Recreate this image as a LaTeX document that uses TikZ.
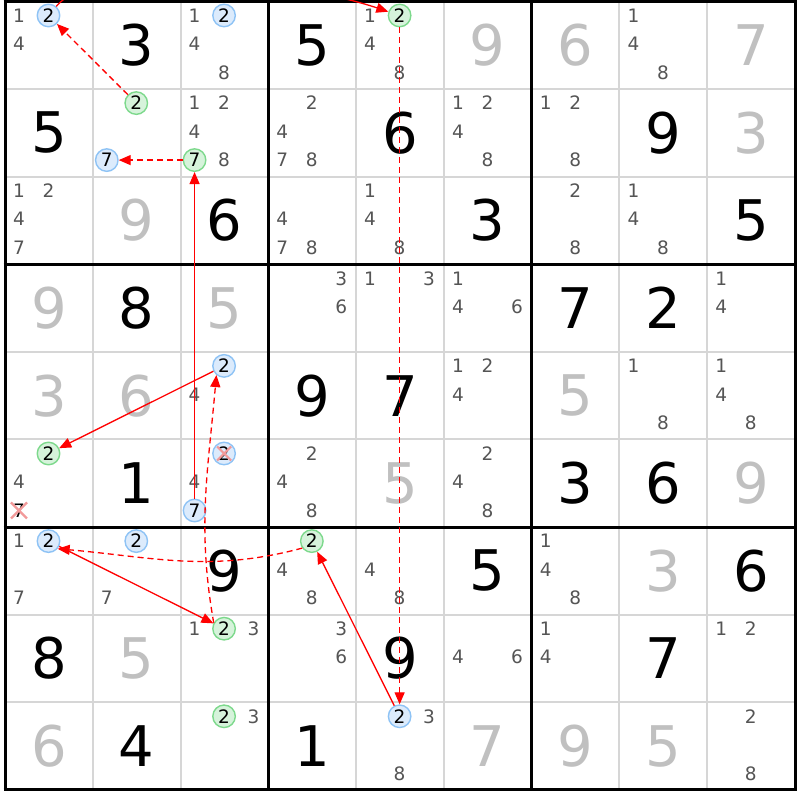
\documentclass[tikz,border=0pt]{standalone}
\usepackage{fontspec}
\setmainfont{DejaVu Sans}
\usetikzlibrary{arrows.meta}
\definecolor{candgray}{HTML}{555555}
\definecolor{givgray}{HTML}{C0C0C0}
\definecolor{thinline}{HTML}{D6D6D6}
\definecolor{bluefill}{HTML}{DCEBFC}
\definecolor{bluedraw}{HTML}{8EC3F5}
\definecolor{greenfill}{HTML}{D6F3DB}
\definecolor{greendraw}{HTML}{7DD98C}
\definecolor{crossred}{HTML}{F29A9A}
\definecolor{chainred}{HTML}{FF0000}
\def\csx{87.78}\def\csy{87.6}\def\gx{5}\def\gtop{798.5}
\newcommand\cpos[3]{%
  \pgfmathsetmacro\cx{\gx+\csx*#2+14+29.5*mod(#3-1,3)}%
  \pgfmathsetmacro\cy{\gtop-\csy*#1-14-28.5*floor((#3-1)/3)}}
\newcommand\cnd[3]{\cpos{#1}{#2}{#3}\node[candtxt] (n#1#2#3) at (\cx,\cy) {#3};}
\newcommand\cands[3]{\foreach \dd in {#3}{\cnd{#1}{#2}{\dd}}}
\newcommand\hl[5]{\cpos{#3}{#4}{#5}\node[#1] (#2) at (\cx,\cy) {#5};}
\newcommand\bigdig[4]{%
  \pgfmathsetmacro\cx{\gx+\csx*(#2+0.5)}%
  \pgfmathsetmacro\cy{\gtop-\csy*(#1+0.5)}%
  \node[#4] (g#1#2) at (\cx,\cy) {#3};}
\newcommand\xmark[4]{\cpos{#1}{#2}{#3}%
  \draw[crossx] (\cx-#4,\cy-#4) -- (\cx+#4,\cy+#4) (\cx-#4,\cy+#4) -- (\cx+#4,\cy-#4);}
\tikzset{
  candtxt/.style={inner sep=0pt, text=candgray, font=\fontsize{18.5}{18.5}\selectfont},
  bluec/.style={circle, draw=bluedraw, fill=bluefill, line width=1.4pt, minimum size=22.5pt, inner sep=0pt, text=black, font=\fontsize{18.5}{18.5}\selectfont},
  greenc/.style={bluec, draw=greendraw, fill=greenfill},
  bk/.style={inner sep=0pt, text=black, font=\fontsize{56}{56}\selectfont},
  gr/.style={bk, text=givgray},
  crossx/.style={draw=crossred, line width=2.2pt},
  strong/.style={draw=chainred, line width=1.3pt, -{Triangle[length=12pt,width=10pt]}},
  weak/.style={strong, dash pattern=on 6pt off 4pt},
  thin grid/.style={draw=thinline, line width=2pt},
  thick grid/.style={draw=black, line width=3pt},
}
\begin{document}
\begin{tikzpicture}[x=1pt,y=1pt]
\useasboundingbox (0,0) rectangle (800,800);
\fill[white] (0,0) rectangle (800,800);
\clip (0,0) rectangle (800,800);
% grid
\foreach \i in {1,2,4,5,7,8}{
  \draw[thin grid] ({\gx+\csx*\i},\gtop) -- ({\gx+\csx*\i},{\gtop-9*\csy});
  \draw[thin grid] (\gx,{\gtop-\csy*\i}) -- ({\gx+9*\csx},{\gtop-\csy*\i});
}
\foreach \i in {0,3,6,9}{
  \draw[thick grid] ({\gx+\csx*\i},{\gtop+1.5}) -- ({\gx+\csx*\i},{\gtop-9*\csy-1.5});
  \draw[thick grid] ({\gx-1.5},{\gtop-\csy*\i}) -- ({\gx+9*\csx+1.5},{\gtop-\csy*\i});
}
% row 0
\cands{0}{0}{1,4}\hl{bluec}{b00}{0}{0}{2}
\bigdig{0}{1}{3}{bk}
\cands{0}{2}{1,4,8}\hl{bluec}{b02}{0}{2}{2}
\bigdig{0}{3}{5}{bk}
\cands{0}{4}{1,4,8}\hl{greenc}{g04}{0}{4}{2}
\bigdig{0}{5}{9}{gr}
\bigdig{0}{6}{6}{gr}
\cands{0}{7}{1,4,8}
\bigdig{0}{8}{7}{gr}
% row 1
\bigdig{1}{0}{5}{bk}
\hl{greenc}{g11}{1}{1}{2}\hl{bluec}{b11}{1}{1}{7}
\cands{1}{2}{1,2,4,8}\hl{greenc}{g12}{1}{2}{7}
\cands{1}{3}{2,4,7,8}
\bigdig{1}{4}{6}{bk}
\cands{1}{5}{1,2,4,8}
\cands{1}{6}{1,2,8}
\bigdig{1}{7}{9}{bk}
\bigdig{1}{8}{3}{gr}
% row 2
\cands{2}{0}{1,2,4,7}
\bigdig{2}{1}{9}{gr}
\bigdig{2}{2}{6}{bk}
\cands{2}{3}{4,7,8}
\cands{2}{4}{1,4,8}
\bigdig{2}{5}{3}{bk}
\cands{2}{6}{2,8}
\cands{2}{7}{1,4,8}
\bigdig{2}{8}{5}{bk}
% row 3
\bigdig{3}{0}{9}{gr}
\bigdig{3}{1}{8}{bk}
\bigdig{3}{2}{5}{gr}
\cands{3}{3}{3,6}
\cands{3}{4}{1,3}
\cands{3}{5}{1,4,6}
\bigdig{3}{6}{7}{bk}
\bigdig{3}{7}{2}{bk}
\cands{3}{8}{1,4}
% row 4
\bigdig{4}{0}{3}{gr}
\bigdig{4}{1}{6}{gr}
\cands{4}{2}{4}\hl{bluec}{b42}{4}{2}{2}
\bigdig{4}{3}{9}{bk}
\bigdig{4}{4}{7}{bk}
\cands{4}{5}{1,2,4}
\bigdig{4}{6}{5}{gr}
\cands{4}{7}{1,8}
\cands{4}{8}{1,4,8}
% row 5
\cands{5}{0}{4}\hl{greenc}{g50}{5}{0}{2}
\cpos{5}{0}{7}\node[candtxt, text=black] (n507) at (\cx,\cy) {7};
\bigdig{5}{1}{1}{bk}
\cands{5}{2}{4}\hl{bluec}{b52}{5}{2}{2}\hl{bluec}{b527}{5}{2}{7}
\cands{5}{3}{2,4,8}
\bigdig{5}{4}{5}{gr}
\cands{5}{5}{2,4,8}
\bigdig{5}{6}{3}{bk}
\bigdig{5}{7}{6}{bk}
\bigdig{5}{8}{9}{gr}
% row 6
\cands{6}{0}{1,7}\hl{bluec}{b60}{6}{0}{2}
\cands{6}{1}{7}\hl{bluec}{b61}{6}{1}{2}
\bigdig{6}{2}{9}{bk}
\cands{6}{3}{4,8}\hl{greenc}{g63}{6}{3}{2}
\cands{6}{4}{4,8}
\bigdig{6}{5}{5}{bk}
\cands{6}{6}{1,4,8}
\bigdig{6}{7}{3}{gr}
\bigdig{6}{8}{6}{bk}
% row 7
\bigdig{7}{0}{8}{bk}
\bigdig{7}{1}{5}{gr}
\cands{7}{2}{1,3}\hl{greenc}{g72}{7}{2}{2}
\cands{7}{3}{3,6}
\bigdig{7}{4}{9}{bk}
\cands{7}{5}{4,6}
\cands{7}{6}{1,4}
\bigdig{7}{7}{7}{bk}
\cands{7}{8}{1,2}
% row 8
\bigdig{8}{0}{6}{gr}
\bigdig{8}{1}{4}{bk}
\cands{8}{2}{3}\hl{greenc}{g82}{8}{2}{2}
\bigdig{8}{3}{1}{bk}
\cands{8}{4}{3,8}\hl{bluec}{b84}{8}{4}{2}
\bigdig{8}{5}{7}{gr}
\bigdig{8}{6}{9}{gr}
\bigdig{8}{7}{5}{gr}
\cands{8}{8}{2,8}
% eliminations
\xmark{5}{0}{7}{8}
\xmark{5}{2}{2}{7}
% chain
\draw[weak] (g11) -- (b00);
\draw[strong] (b00) .. controls (100,845) and (300,818) .. (g04);
\draw[weak] (g04) -- (b84);
\draw[strong] (b84) -- (g63);
\draw[weak] (g63.-144) to[out=195,in=-5] (b60.-40);
\draw[strong] (b60) -- (g72);
\draw[weak] (g72.150) to[out=100,in=-95] (b42.-130);
\draw[strong] (b42) -- (g50);
\draw[strong] (b527) -- (g12);
\draw[weak] (g12) -- (b11);
\end{tikzpicture}
\end{document}
